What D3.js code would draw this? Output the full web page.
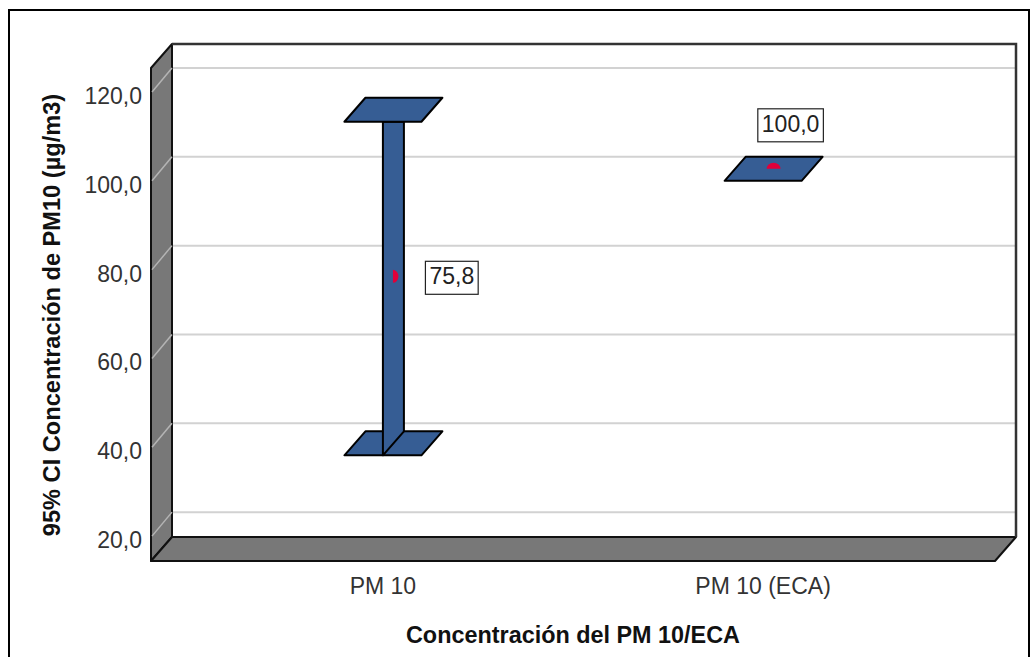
<!DOCTYPE html>
<html>
<head>
<meta charset="utf-8">
<script src="https://cdn.jsdelivr.net/npm/d3@7"></script>
<style>
  html, body { margin: 0; padding: 0; background: #fff; }
  svg { display: block; }
  text { font-family: "Liberation Sans", Arial, sans-serif; }
</style>
</head>
<body>
<svg id="chart" width="1032" height="657"></svg>
<script>
// ---- data ----
const categories = ["PM 10", "PM 10 (ECA)"];
const means = [75.8, 100.0];
const lowerCI = [38.2, 100.0];
const upperCI = [113.3, 100.0];
const yTicks = [20, 40, 60, 80, 100, 120];
const xTitle = "Concentración del PM 10/ECA";
const yTitle = "95% CI Concentración de PM10 (µg/m3)";

// ---- layout ----
const svg = d3.select("#chart");
const backLeft = 172, backRight = 1016, backTop = 44, backBottom = 537;
const DX = -21, DY = 24; // back -> front offset
const fmt = v => d3.format(".1f")(v).replace(".", ",");

const yBack = d3.scaleLinear().domain([14.4, 125.4]).range([backBottom, backTop]);
const yFront = v => yBack(v) + DY;
const yMid = v => yBack(v) + DY / 2;
const xFront = d3.scalePoint().domain(categories).range([backLeft + DX, backRight + DX]).padding(0.61);
const xMid = c => xFront(c) - DX / 2;
const xBack = c => xFront(c) - DX;

// outer frame
svg.append("rect").attr("x", 9).attr("y", 10).attr("width", 1020).attr("height", 660)
  .attr("fill", "none").attr("stroke", "#000").attr("stroke-width", 2);

const line = d3.line();

// back wall gridlines
svg.append("g").selectAll("line").data(yTicks).join("line")
  .attr("x1", backLeft).attr("x2", backRight)
  .attr("y1", d => yBack(d)).attr("y2", d => yBack(d))
  .attr("stroke", "#d2d2d2").attr("stroke-width", 2);

// left wall
svg.append("path")
  .attr("d", line([[backLeft + DX, backTop + DY], [backLeft, backTop], [backLeft, backBottom], [backLeft + DX, backBottom + DY]]) + "Z")
  .attr("fill", "#787878").attr("stroke", "#111").attr("stroke-width", 2).attr("stroke-linejoin", "round");
// left wall diagonal gridlines
svg.append("g").selectAll("line").data(yTicks).join("line")
  .attr("x1", backLeft + DX + 1).attr("x2", backLeft)
  .attr("y1", d => yFront(d)).attr("y2", d => yBack(d))
  .attr("stroke", "#b4b4b4").attr("stroke-width", 1.5);
// floor
svg.append("path")
  .attr("d", line([[backLeft + DX, backBottom + DY], [backLeft, backBottom], [backRight, backBottom], [backRight + DX, backBottom + DY]]) + "Z")
  .attr("fill", "#787878").attr("stroke", "#111").attr("stroke-width", 2).attr("stroke-linejoin", "round");
// back wall top & right edges
svg.append("path")
  .attr("d", line([[backLeft, backTop], [backRight, backTop], [backRight, backBottom]]))
  .attr("fill", "none").attr("stroke", "#333").attr("stroke-width", 2.5);

// y tick labels
svg.append("g").selectAll("text").data(yTicks).join("text")
  .attr("x", 142).attr("y", d => yFront(d) + 4)
  .attr("text-anchor", "end").attr("dominant-baseline", "central")
  .attr("font-size", 23).attr("fill", "#333")
  .text(d => fmt(d));

// x tick labels
svg.append("g").selectAll("text").data(categories).join("text")
  .attr("x", d => xFront(d)).attr("y", 594)
  .attr("text-anchor", "middle").attr("font-size", 23).attr("fill", "#333")
  .text(d => d);

// axis titles
svg.append("text").attr("x", (backLeft + backRight) / 2 + DX).attr("y", 643)
  .attr("text-anchor", "middle").attr("font-size", 23.4).attr("font-weight", "bold").attr("fill", "#111")
  .text(xTitle);
svg.append("text").attr("transform", "translate(60,315) rotate(-90)")
  .attr("text-anchor", "middle").attr("font-size", 23.6).attr("font-weight", "bold").attr("fill", "#111")
  .text(yTitle);

// error bars
const barFill = "#365d94";
const capHalf = 38.5;
function cap(c, v) {
  const fx = xFront(c), bx = xBack(c);
  return line([[fx - capHalf, yFront(v)], [bx - capHalf, yBack(v)], [bx + capHalf, yBack(v)], [fx + capHalf, yFront(v)]]) + "Z";
}
const g = svg.append("g");
categories.forEach((c, i) => {
  const lo = lowerCI[i], hi = upperCI[i];
  // lower cap
  g.append("path").attr("d", cap(c, lo))
    .attr("fill", barFill).attr("stroke", "#000").attr("stroke-width", 2).attr("stroke-linejoin", "round");
  if (hi > lo) {
    const fx = xFront(c), bx = xBack(c);
    g.append("path")
      .attr("d", line([[fx, yFront(hi)], [bx, yFront(hi)], [bx, yBack(lo)], [fx, yFront(lo)]]) + "Z")
      .attr("fill", barFill).attr("stroke", "#000").attr("stroke-width", 2).attr("stroke-linejoin", "round");
    g.append("path").attr("d", cap(c, hi))
      .attr("fill", barFill).attr("stroke", "#000").attr("stroke-width", 2).attr("stroke-linejoin", "round");
  }
  // mean marker
  const mx = xMid(c), my = yMid(means[i]);
  const markerPath = hi > lo
    ? `M${mx - 0.5},${my - 6.5} A5.5,6.5 0 0 1 ${mx - 0.5},${my + 6.5} Z`
    : `M${mx - 7},${my} A7,6 0 0 1 ${mx + 7},${my} Z`;
  g.append("path").attr("d", markerPath).attr("fill", "#e0003a");

  // value label
  const t = g.append("text").attr("font-size", 23).attr("fill", "#222").text(fmt(means[i]));
  let tx, ty;
  if (hi > lo) { tx = mx + 36; ty = my + 8; t.attr("text-anchor", "start"); }
  else { tx = mx + 17; ty = my - 37; t.attr("text-anchor", "middle"); }
  t.attr("x", tx).attr("y", ty);
  const bb = t.node().getBBox();
  g.insert("rect", () => t.node())
    .attr("x", bb.x - 4).attr("y", ty - 23).attr("width", bb.width + 8).attr("height", 33)
    .attr("fill", "#fff").attr("stroke", "#222").attr("stroke-width", 1.2);
});
</script>
</body>
</html>
